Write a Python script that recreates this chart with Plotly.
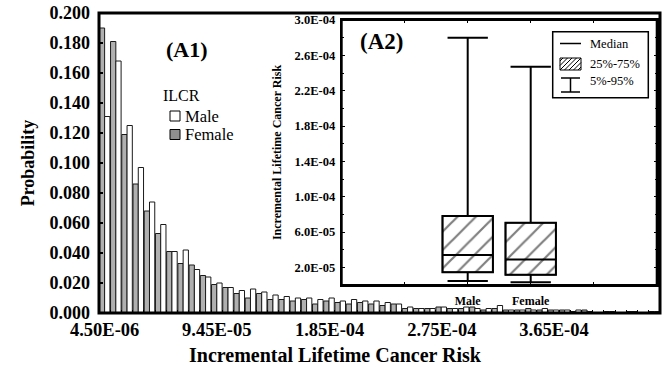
import plotly.graph_objects as go

# ---------------- data ----------------
first_bin_center = 4.5e-6
bin_width = 9.0e-6
n_bins_shown = 50

female_prob = [0.190, 0.181, 0.119, 0.086, 0.068, 0.053, 0.041, 0.033, 0.032, 0.025,
               0.019, 0.017, 0.013, 0.010, 0.013, 0.009, 0.009, 0.008, 0.009, 0.006,
               0.008, 0.007, 0.006, 0.007, 0.006, 0.005, 0.006, 0.003, 0.003, 0.003,
               0.004, 0.003, 0.003, 0.004, 0.002, 0.003, 0.002, 0.002, 0.003, 0.002,
               0.002, 0.002, 0.001, 0.002, 0.000, 0.001, 0.000, 0.001, 0.000, 0.001]
male_prob = [0.131, 0.168, 0.125, 0.097, 0.074, 0.059, 0.041, 0.042, 0.029, 0.024,
             0.020, 0.017, 0.015, 0.016, 0.014, 0.012, 0.011, 0.010, 0.010, 0.009,
             0.010, 0.008, 0.009, 0.008, 0.008, 0.007, 0.006, 0.004, 0.003, 0.003,
             0.004, 0.003, 0.004, 0.003, 0.003, 0.005, 0.002, 0.002, 0.002, 0.003,
             0.002, 0.002, 0.002, 0.001, 0.000, 0.001, 0.000, 0.001, 0.000, 0.001]
x_tick_labels = ["4.50E-06", "9.45E-05", "1.85E-04", "2.75E-04", "3.65E-04"]
y_tick_values = [0.000, 0.020, 0.040, 0.060, 0.080, 0.100, 0.120, 0.140, 0.160, 0.180, 0.200]

box_categories = ["Male", "Female"]
box_positions = [2, 3]
box_p5 = [4.5e-6, 3.0e-6]
box_q1 = [1.45e-5, 1.15e-5]
box_median = [3.4e-5, 2.9e-5]
box_q3 = [7.8e-5, 7.05e-5]
box_p95 = [2.80e-4, 2.47e-4]
inset_y_ticks = [2.0e-5, 6.0e-5, 1.0e-4, 1.4e-4, 1.8e-4, 2.2e-4, 2.6e-4, 3.0e-4]

# ---------------- layout helpers ----------------
W, H = 669, 374
ML, MR, MT, MB = 99, 9, 13, 61
PW, PH = W - ML - MR, H - MT - MB
SERIF = "Liberation Serif"
GRAY = "#b0b0b0"


def px(xp):
    return (xp - ML) / PW


def py(yp):
    return (H - MB - yp) / PH


def bold(s):
    return dict(family=SERIF, size=s, color="black", weight="bold")


bin_centers = [first_bin_center + i * bin_width for i in range(len(female_prob))]
x_lo = first_bin_center - bin_width / 2

fig = go.Figure()
fig.add_bar(x=bin_centers, y=female_prob, name="Female",
            marker=dict(color=GRAY, line=dict(color="#1a1a1a", width=1)))
fig.add_bar(x=bin_centers, y=male_prob, name="Male",
            marker=dict(color="white", line=dict(color="#1a1a1a", width=1)))

# inset: hatched interquartile boxes + whiskers
fig.add_bar(x=box_positions, y=[q3 - q1 for q1, q3 in zip(box_q1, box_q3)], base=box_q1,
            width=0.8, xaxis="x2", yaxis="y2", showlegend=False,
            marker=dict(color="white", line=dict(color="black", width=1.5),
                        pattern=dict(shape="/", fgcolor="black", bgcolor="white",
                                     size=13, solidity=0.17)))
fig.add_trace(go.Box(x=box_positions, q1=box_q1, median=box_median, q3=box_q3,
                     lowerfence=box_p5, upperfence=box_p95, width=0.8, whiskerwidth=0.8,
                     fillcolor="rgba(0,0,0,0)", line=dict(color="black", width=2),
                     boxpoints=False, xaxis="x2", yaxis="y2", showlegend=False))

shapes = []
annotations = []

# frames
shapes.append(dict(type="rect", xref="paper", yref="paper", x0=0, x1=1, y0=0, y1=1,
                   line=dict(color="black", width=3), layer="above"))
shapes.append(dict(type="rect", xref="paper", yref="paper", x0=px(341.7), x1=px(656.7),
                   y0=py(285), y1=py(20), line=dict(color="black", width=2), layer="above"))

# main legend (drawn)
annotations.append(dict(text="ILCR", xref="paper", yref="paper", x=px(161), y=py(96),
                        xanchor="left", yanchor="middle", showarrow=False,
                        font=dict(family=SERIF, size=16, color="black")))
for name, fill, yy in (("Male", "white", 116), ("Female", "#8f8f8f", 134.5)):
    shapes.append(dict(type="rect", xref="paper", yref="paper", x0=px(170), x1=px(180),
                       y0=py(yy + 5), y1=py(yy - 5), line=dict(color="black", width=1),
                       fillcolor=fill))
    annotations.append(dict(text=name, xref="paper", yref="paper", x=px(183), y=py(yy),
                            xanchor="left", yanchor="middle", showarrow=False,
                            font=dict(family=SERIF, size=16.5, color="black")))

# inset legend (drawn)
lx0, ly0, lx1, ly1 = 552.7, 31.7, 648.3, 97.7
shapes.append(dict(type="rect", xref="paper", yref="paper", x0=px(lx0), x1=px(lx1),
                   y0=py(ly1), y1=py(ly0), line=dict(color="black", width=1.5),
                   fillcolor="white", layer="above"))
shapes.append(dict(type="line", xref="paper", yref="paper", x0=px(560), x1=px(581),
                   y0=py(43.5), y1=py(43.5), line=dict(color="black", width=1.5)))
sx0, sy0, sx1, sy1 = 560, 58, 581, 70
shapes.append(dict(type="rect", xref="paper", yref="paper", x0=px(sx0), x1=px(sx1),
                   y0=py(sy1), y1=py(sy0), line=dict(color="black", width=1), fillcolor="white"))
c = sx0 + sy0 + 3
while c < sx1 + sy1:
    xa = max(sx0, c - sy1)
    xb = min(sx1, c - sy0)
    if xb > xa:
        shapes.append(dict(type="line", xref="paper", yref="paper", x0=px(xa), x1=px(xb),
                           y0=py(c - xa), y1=py(c - xb), line=dict(color="black", width=1)))
    c += 4.5
shapes.append(dict(type="line", xref="paper", yref="paper", x0=px(570.5), x1=px(570.5),
                   y0=py(78), y1=py(92), line=dict(color="black", width=1.5)))
for yy in (78, 92):
    shapes.append(dict(type="line", xref="paper", yref="paper", x0=px(561), x1=px(580),
                       y0=py(yy), y1=py(yy), line=dict(color="black", width=1.5)))
for text, yy in (("Median", 43.5), ("25%-75%", 63.5), ("5%-95%", 81)):
    annotations.append(dict(text=text, xref="paper", yref="paper", x=px(588), y=py(yy),
                            xanchor="left", yanchor="middle", showarrow=False,
                            font=dict(family=SERIF, size=12.5, color="black")))

annotations.append(dict(text="(A1)", xref="paper", yref="paper", x=px(187), y=py(50),
                        xanchor="center", yanchor="middle", showarrow=False, font=bold(22)))
annotations.append(dict(text="(A2)", xref="paper", yref="paper", x=px(381), y=py(41),
                        xanchor="center", yanchor="middle", showarrow=False, font=bold(23)))
# x-axis title (placed off-centre as in the original)
annotations.append(dict(text="Incremental Lifetime Cancer Risk", xref="paper", yref="paper",
                        x=px(335), y=py(355), xanchor="center", yanchor="middle",
                        showarrow=False, font=bold(20)))

fig.update_layout(
    width=W, height=H,
    margin=dict(l=ML, r=MR, t=MT, b=MB),
    paper_bgcolor="white", plot_bgcolor="white",
    barmode="group", bargap=0.06, bargroupgap=0.0,
    showlegend=False,
    xaxis=dict(domain=[0, 1], range=[x_lo, x_lo + n_bins_shown * bin_width],
               tickvals=[float(s) for s in x_tick_labels], ticktext=x_tick_labels,
               ticks="", tickfont=bold(18.5), ticklabelstandoff=3,
               minor=dict(dtick=bin_width, tick0=x_lo, ticks="inside", ticklen=3,
                          tickcolor="black", tickwidth=1),
               showline=False, showgrid=False, zeroline=False, automargin=False),
    yaxis=dict(domain=[0, 1], range=[0, 0.2], tickvals=y_tick_values, tickformat=".3f",
               ticks="inside", ticklen=4, tickwidth=1.5, tickcolor="black", tickfont=bold(18),
               ticklabelstandoff=8,
               showline=False, showgrid=False, zeroline=False, automargin=False,
               title=dict(text="Probability", font=bold(18), standoff=10)),
    xaxis2=dict(domain=[px(341.7), px(656.7)], anchor="y2", range=[0, 5],
                tickvals=[1, 2, 3, 4], ticktext=["", box_categories[0], box_categories[1], ""],
                ticks="inside", ticklen=3, tickcolor="black", tickfont=bold(12),
                ticklabelstandoff=4,
                showline=True, mirror="allticks", linewidth=2, linecolor="black",
                showgrid=False, zeroline=False, automargin=False),
    yaxis2=dict(domain=[py(285), py(20)], anchor="x2", range=[0, 3.0e-4],
                tickvals=inset_y_ticks, ticktext=[f"{v:.1E}" for v in inset_y_ticks],
                ticks="inside", ticklen=3, tickcolor="black", tickfont=bold(12.5),
                ticklabelstandoff=2,
                minor=dict(dtick=2.0e-5, tick0=0, ticks="inside", ticklen=2, tickcolor="black"),
                showline=True, mirror="allticks", linewidth=2, linecolor="black",
                showgrid=False, zeroline=False, automargin=False,
                title=dict(text="Incremental Lifetime Cancer Risk", font=bold(12), standoff=10)),
    shapes=shapes,
    annotations=annotations,
)

fig.write_html("out.html", config={"displayModeBar": False},
               post_script="document.body.style.margin='0px';")
